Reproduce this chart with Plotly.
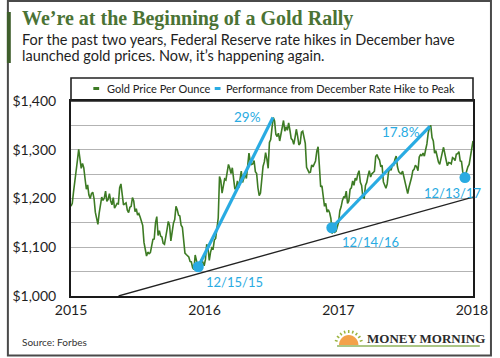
import math
import pandas as pd
import plotly.graph_objects as go

# ---------------- data ----------------
# Gold price per ounce, one value every 3.5 days starting 2015-01-01
gold_price = [
    # 2015
    1184, 1190, 1214, 1232, 1255, 1278, 1301, 1284,
    1262, 1272, 1263, 1240, 1219, 1228, 1207, 1200,
    1210, 1213, 1200, 1172, 1155, 1147, 1170, 1186,
    1203, 1196, 1201, 1215, 1194, 1198, 1210, 1195,
    1187, 1202, 1180, 1185, 1190, 1189, 1222, 1230,
    1206, 1187, 1189, 1191, 1176, 1171, 1182, 1184,
    1202, 1195, 1173, 1179, 1166, 1169, 1162, 1154,
    1145, 1110, 1094, 1082, 1090, 1087, 1089, 1104,
    1116, 1117, 1150, 1163, 1124, 1134, 1123, 1121,
    1108, 1106, 1118, 1136, 1153, 1145, 1113, 1136,
    1149, 1157, 1184, 1177, 1166, 1164, 1145, 1141,
    1105, 1088, 1085, 1083, 1080, 1071, 1070, 1058,
    1054, 1084, 1073, 1066, 1050, 1070, 1075, 1069,
    # 2016
    1062, 1075, 1106, 1098, 1073, 1090, 1099, 1097,
    1115, 1118, 1145, 1160, 1245, 1237, 1211, 1226,
    1240, 1238, 1259, 1270, 1262, 1251, 1263, 1244,
    1219, 1222, 1236, 1222, 1236, 1256, 1233, 1243,
    1250, 1241, 1266, 1293, 1276, 1270, 1271, 1278,
    1255, 1251, 1222, 1206, 1211, 1245, 1266, 1275,
    1294, 1281, 1262, 1315, 1321, 1345, 1366, 1359,
    1332, 1327, 1334, 1318, 1335, 1351, 1360, 1338,
    1347, 1340, 1355, 1340, 1323, 1320, 1311, 1325,
    1342, 1328, 1310, 1313, 1336, 1338, 1322, 1313,
    1264, 1258, 1253, 1254, 1269, 1265, 1270, 1277,
    1297, 1306, 1267, 1224, 1226, 1208, 1184, 1190,
    1172, 1177, 1171, 1159, 1128, 1140, 1131, 1133,
    # 2017
    1145, 1151, 1175, 1183, 1196, 1203, 1202, 1215,
    1190, 1195, 1219, 1222, 1236, 1227, 1242, 1237,
    1250, 1257, 1233, 1227, 1202, 1201, 1227, 1233,
    1247, 1257, 1244, 1251, 1253, 1256, 1286, 1290,
    1283, 1279, 1265, 1268, 1234, 1229, 1221, 1230,
    1254, 1262, 1258, 1268, 1268, 1280, 1287, 1265,
    1255, 1252, 1251, 1256, 1245, 1232, 1222, 1210,
    1223, 1231, 1243, 1257, 1260, 1268, 1265, 1257,
    1285, 1290, 1288, 1293, 1287, 1300, 1312, 1334,
    1346, 1350, 1325, 1318, 1293, 1298, 1284, 1275,
    1270, 1285, 1294, 1305, 1287, 1279, 1267, 1274,
    1273, 1271, 1284, 1282, 1278, 1291, 1292, 1296,
    1277, 1276, 1255, 1248, 1247, 1257, 1265, 1270,
    # 2018
    1286, 1303, 1318,
]
gold_dates = pd.date_range("2015-01-01", periods=len(gold_price), freq="84h")

hike_dates = ["2015-12-15", "2016-12-14", "2017-12-13"]
hike_prices = [1060, 1140, 1243]
hike_labels = ["12/15/15", "12/14/16", "12/13/17"]

peak_dates = ["2016-07-06", "2017-09-08"]
peak_prices = [1366, 1348]
perf_labels = ["29%", "17.8%"]

trend_dates = ["2015-05-11", "2018-01-04"]
trend_prices = [1000, 1203]

year_ticks = ["2015-01-01", "2016-01-01", "2017-01-01", "2018-01-01"]
year_labels = ["2015", "2016", "2017", "2018"]
price_ticks = [1000, 1100, 1200, 1300, 1400]
price_labels = ["$1,000", "$1,100", "$1,200", "$1,300", "$1,400"]

# ---------------- styling ----------------
W, H = 500, 358
L, R, T, B = 66, 20, 101, 62
PW, PH = W - L - R, H - T - B
GREEN = "#3d7b24"
BLUE = "#29abe2"
SANS = "Lato, 'Open Sans', sans-serif"
SERIF = "'Liberation Serif', 'DejaVu Serif', serif"


def X(px):
    return (px - L) / PW


def Y(py):
    return (H - B - py) / PH


fig = go.Figure()

fig.add_trace(go.Scatter(
    x=trend_dates, y=trend_prices, mode="lines",
    line=dict(color="#222222", width=1.3), hoverinfo="skip", showlegend=False))

fig.add_trace(go.Scatter(
    x=gold_dates, y=gold_price, mode="lines", name="Gold Price Per Ounce",
    line=dict(color=GREEN, width=1.6), showlegend=False))

for i in range(len(peak_dates)):
    fig.add_trace(go.Scatter(
        x=[hike_dates[i], peak_dates[i]], y=[hike_prices[i], peak_prices[i]],
        mode="lines", line=dict(color=BLUE, width=3.2),
        name="Performance from December Rate Hike to Peak", showlegend=False))

fig.add_trace(go.Scatter(
    x=hike_dates, y=hike_prices, mode="markers",
    marker=dict(color=BLUE, size=11), showlegend=False))

annotations = []
annotations.append(dict(x="2016-04-28", y=1367, text=perf_labels[0], showarrow=False,
                        xanchor="center", yanchor="middle",
                        font=dict(family=SANS, size=13.5, color=BLUE)))
annotations.append(dict(x="2017-06-22", y=1336, text=perf_labels[1], showarrow=False,
                        xanchor="center", yanchor="middle",
                        font=dict(family=SANS, size=13.5, color=BLUE)))
label_pos = [("2015-12-31", 1029), ("2017-01-05", 1111), ("2017-08-17", 1211)]
for (lx, ly), txt in zip(label_pos, hike_labels):
    annotations.append(dict(x=lx, y=ly, text=txt, showarrow=False, xanchor="left",
                            yanchor="middle", font=dict(family=SANS, size=13, color=BLUE)))

paper = dict(xref="paper", yref="paper", showarrow=False)
annotations += [
    dict(**paper, x=X(13), y=Y(19), xanchor="left", yanchor="middle",
         text="<b>We’re at the Beginning of a Gold Rally</b>",
         font=dict(family=SERIF, size=20, color="#4b7335")),
    dict(**paper, x=X(13), y=Y(39), xanchor="left", yanchor="middle",
         text="For the past two years, Federal Reserve rate hikes in December have",
         font=dict(family=SANS, size=14.5, color="#1e1e1e")),
    dict(**paper, x=X(13), y=Y(56), xanchor="left", yanchor="middle",
         text="launched gold prices. Now, it’s happening again.",
         font=dict(family=SANS, size=14.5, color="#1e1e1e")),
    dict(**paper, x=X(101), y=Y(88.5), xanchor="left", yanchor="middle",
         text="Gold Price Per Ounce",
         font=dict(family=SANS, size=11, color="#222222")),
    dict(**paper, x=X(224), y=Y(88.5), xanchor="left", yanchor="middle",
         text="Performance from December Rate Hike to Peak",
         font=dict(family=SANS, size=11, color="#222222")),
    dict(**paper, x=X(13), y=Y(342), xanchor="left", yanchor="middle",
         text="Source: Forbes",
         font=dict(family=SANS, size=10, color="#333333")),
    dict(**paper, x=X(369), y=Y(338), xanchor="left", yanchor="middle",
         text="<b>MONEY MORNING</b>",
         font=dict(family=SERIF, size=13, color="#2b2b2b")),
]

shapes = [
    dict(type="rect", xref="paper", yref="paper", x0=X(1), x1=X(498.5), y0=Y(1), y1=Y(355.5),
         line=dict(color="#4a4a4a", width=2), layer="below"),
    dict(type="rect", xref="paper", yref="paper", x0=X(0), x1=X(4), y0=Y(12), y1=Y(63),
         line=dict(width=0), fillcolor="#3e5e2b"),
    dict(type="rect", xref="paper", yref="paper", x0=X(66), x1=X(480), y0=Y(101), y1=Y(78),
         line=dict(color="#222222", width=1.6)),
    dict(type="line", xref="paper", yref="paper", x0=X(89), x1=X(95), y0=Y(88.5), y1=Y(88.5),
         line=dict(color=GREEN, width=3)),
    dict(type="line", xref="paper", yref="paper", x0=X(214), x1=X(220), y0=Y(88.5), y1=Y(88.5),
         line=dict(color=BLUE, width=3)),
    dict(type="line", xref="paper", yref="paper", x0=X(340), x1=X(487), y0=Y(346), y1=Y(346),
         line=dict(color="#8fb35c", width=1.5)),
]

# Money Morning sun (decoration)
cx, cy, r = 352, 345, 10
pts = [(cx + r * math.cos(math.pi * k / 16), cy - r * math.sin(math.pi * k / 16)) for k in range(17)]
path = "M " + " L ".join(f"{X(px):.5f},{Y(py):.5f}" for px, py in pts) + " Z"
shapes.append(dict(type="path", xref="paper", yref="paper", path=path,
                   fillcolor="#f3a24a", line=dict(width=0)))
for k in range(1, 10):
    a = math.pi * k / 10
    x0, y0 = cx + (r + 2) * math.cos(a), cy - (r + 2) * math.sin(a)
    x1, y1 = cx + (r + 5) * math.cos(a), cy - (r + 5) * math.sin(a)
    shapes.append(dict(type="line", xref="paper", yref="paper", x0=X(x0), x1=X(x1),
                       y0=Y(y0), y1=Y(y1), line=dict(color="#9bb43f", width=1.5)))

fig.update_layout(
    width=W, height=H,
    margin=dict(l=L, r=R, t=T, b=B, pad=0),
    paper_bgcolor="white", plot_bgcolor="white",
    showlegend=False,
    annotations=annotations, shapes=shapes,
    xaxis=dict(
        type="date", range=["2015-01-01", "2018-01-04"],
        tickvals=year_ticks, ticktext=year_labels,
        showgrid=False, zeroline=False,
        showline=True, linecolor="#1a1a1a", linewidth=2, mirror=True,
        ticks="",
        tickfont=dict(family=SANS, size=14, color="#1e1e1e"),
    ),
    yaxis=dict(
        range=[1000, 1400],
        tickvals=price_ticks, ticktext=price_labels,
        showgrid=True, gridcolor="#b3b3b3", gridwidth=1.3,
        minor=dict(dtick=50, tick0=1000, showgrid=True, gridcolor="#b3b3b3", gridwidth=1.3,
                   ticks=""),
        zeroline=False,
        showline=True, linecolor="#1a1a1a", linewidth=2, mirror=True,
        ticks="outside", ticklen=10, tickcolor="rgba(0,0,0,0)",
        tickfont=dict(family=SANS, size=14, color="#1e1e1e"),
    ),
)

fig.write_html("out.html", config={"displayModeBar": False},
               post_script="document.body.style.margin='0';document.body.style.overflow='hidden';")
